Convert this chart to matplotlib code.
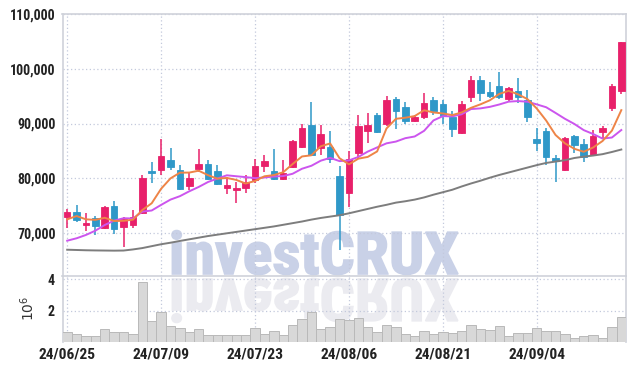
import matplotlib
matplotlib.use("Agg")
import matplotlib.pyplot as plt
import matplotlib.transforms as mtransforms
from matplotlib import font_manager as fm
from matplotlib.font_manager import FontProperties
from matplotlib.textpath import TextPath
from matplotlib.patches import PathPatch, Rectangle
from matplotlib.ticker import FuncFormatter, FixedLocator

# ---------------- data ----------------
dates = ["24/06/25", "24/06/26", "24/06/27", "24/06/28", "24/07/01", "24/07/02", "24/07/03", "24/07/04",
         "24/07/05", "24/07/08", "24/07/09", "24/07/10", "24/07/11", "24/07/12", "24/07/15", "24/07/16",
         "24/07/17", "24/07/18", "24/07/19", "24/07/22", "24/07/23", "24/07/24", "24/07/25", "24/07/26",
         "24/07/29", "24/07/30", "24/07/31", "24/08/01", "24/08/02", "24/08/05", "24/08/06", "24/08/07",
         "24/08/08", "24/08/09", "24/08/12", "24/08/13", "24/08/14", "24/08/16", "24/08/19", "24/08/20",
         "24/08/21", "24/08/22", "24/08/23", "24/08/26", "24/08/27", "24/08/28", "24/08/29", "24/08/30",
         "24/09/02", "24/09/03", "24/09/04", "24/09/05", "24/09/06", "24/09/09", "24/09/10", "24/09/11",
         "24/09/12", "24/09/13", "24/09/19", "24/09/20"]

opens = [73000, 73850, 71500, 72700, 70900, 74900, 71100, 71500, 73700, 81400,
         81500, 83300, 81500, 78600, 81700, 82600, 81300, 78300, 77800, 78300,
         79600, 82200, 81300, 79900, 82000, 85800, 89700, 85500, 85800, 80400,
         77300, 84600, 88700, 91500, 89900, 94500, 93100, 90500, 91100, 94300,
         93600, 91200, 88300, 94800, 97900, 95800, 96800, 94500, 95900, 94300,
         87200, 88600, 83700, 81600, 87700, 86300, 84200, 88400, 92900, 96000]
highs = [74400, 75100, 73600, 73100, 75000, 75900, 73000, 74200, 80600, 83000,
         87100, 85500, 82400, 80900, 85300, 83300, 82400, 80300, 79400, 80600,
         83600, 84300, 85300, 83300, 87000, 89900, 93900, 89700, 88700, 82300,
         84900, 91600, 92000, 91900, 95000, 94900, 94000, 91600, 95500, 94900,
         94300, 92200, 94200, 98700, 98700, 97600, 99400, 96700, 98300, 96100,
         89100, 89100, 84200, 87600, 87900, 87100, 88800, 89600, 97200, 104900]
lows = [70900, 72100, 70300, 69600, 70800, 69900, 67500, 70900, 73500, 79200,
        80600, 81600, 77900, 77800, 81200, 79700, 78700, 77100, 75400, 77300,
        79200, 81200, 79700, 79600, 81800, 85600, 84000, 84300, 82700, 66900,
        74800, 83500, 86500, 88300, 89600, 89000, 90000, 90300, 90900, 91600,
        90000, 87600, 88100, 94000, 94200, 94600, 94500, 94000, 93700, 90300,
        84900, 82500, 79400, 81300, 84600, 83000, 84000, 87300, 92200, 95400]
closes = [73800, 72400, 71850, 71200, 74700, 70800, 72600, 72900, 80000, 80900,
          84000, 82100, 78100, 80100, 82600, 79900, 78900, 78800, 78300, 79300,
          82200, 83200, 79900, 80900, 86800, 89100, 84300, 88100, 83500, 73300,
          83500, 89500, 89700, 88500, 94300, 92300, 90500, 91200, 93800, 92300,
          91400, 89000, 93600, 98000, 95500, 95100, 94800, 96400, 94900, 91100,
          86500, 83800, 83200, 87300, 86100, 83800, 87700, 89100, 96800, 104800]

ma_short = [72500, 73100, 72500, 72400, 72790, 72190, 72230, 72440, 74200, 75440,
            78080, 79980, 81020, 81040, 81380, 80560, 79920, 80060, 79700, 79040,
            79500, 80360, 80580, 81100, 82600, 83980, 84200, 85840, 86360, 83660,
            82540, 83580, 83900, 84900, 89100, 90860, 91060, 91360, 92420, 92020,
            91840, 91540, 92020, 92860, 93500, 94240, 95400, 95960, 95340, 94460,
            92740, 90540, 87900, 86380, 85380, 84840, 85620, 86800, 88700, 92440]
ma_mid = [68600, 69040, 69650, 70430, 71470, 72260, 72700, 72650, 73900, 74115,
          75135, 76105, 76730, 77620, 78410, 79320, 79950, 80540, 80370, 80210,
          80030, 80140, 80320, 80400, 80820, 81740, 82280, 83210, 83730, 83130,
          83260, 83890, 84870, 85630, 86380, 86700, 87320, 87630, 88660, 90560,
          91350, 91300, 91690, 92640, 92760, 93040, 93470, 93990, 94100, 93980,
          93490, 92970, 91930, 90860, 89920, 88790, 88080, 87250, 87440, 88810]
ma_long = [66950, 66900, 66850, 66820, 66800, 66780, 66800, 67000, 67250, 67600,
           67950, 68230, 68550, 68850, 69150, 69450, 69700, 69950, 70200, 70450,
           70700, 70950, 71200, 71500, 71800, 72100, 72450, 72750, 73000, 73250,
           73600, 74000, 74400, 74800, 75150, 75550, 75800, 76100, 76500, 77000,
           77450, 77900, 78500, 79050, 79550, 80100, 80600, 81050, 81500, 81950,
           82400, 82800, 83050, 83300, 83700, 83950, 84150, 84400, 84800, 85250]

volume_millions = [0.67, 0.54, 0.42, 0.42, 0.88, 0.67, 0.67, 0.54, 3.79, 1.38,
                   1.92, 1.06, 0.92, 0.69, 0.88, 0.48, 0.48, 0.48, 0.48, 0.48,
                   0.92, 0.54, 0.73, 0.48, 1.12, 1.50, 1.92, 0.87, 1.00, 1.50,
                   1.42, 1.54, 0.98, 0.67, 1.10, 0.98, 0.54, 0.46, 0.73, 0.54,
                   0.67, 0.60, 0.73, 1.10, 0.86, 0.79, 1.04, 0.42, 0.60, 0.60,
                   0.92, 0.73, 0.73, 0.54, 0.29, 0.42, 0.48, 0.29, 0.98, 1.60]

price_ticks = [70000, 80000, 90000, 100000, 110000]
volume_ticks = [2, 4]
date_tick_idx = [0, 10, 20, 30, 40, 50]

# ---------------- fonts ----------------
def pick_font():
    pref = ["Liberation Sans Narrow", "Roboto Condensed", "Noto Sans", "Open Sans", "DejaVu Sans", "Roboto", "Liberation Sans"]
    narrow_stretch = ("condensed", "semi-condensed", "extra-condensed", "ultra-condensed")
    boldish = ("bold", "semibold", "demibold", "heavy", "extra bold", 600, 700, 800)
    for name in pref:
        for f in fm.fontManager.ttflist:
            if f.name == name and f.style == "normal" and f.weight in boldish and (
                    f.stretch in narrow_stretch or "Narrow" in name or "Condensed" in name):
                return f.fname
    for name in ["Roboto", "Liberation Sans", "DejaVu Sans"]:
        for f in fm.fontManager.ttflist:
            if f.name == name and f.style == "normal" and f.weight in boldish and f.stretch == "normal":
                return f.fname
    return None

fpath = pick_font()
base_fp = FontProperties(fname=fpath) if fpath else FontProperties(family="DejaVu Sans", weight="bold")

def size_for_width(text, width_px):
    tp = TextPath((0, 0), text, size=10, prop=base_fp)
    w10 = tp.get_extents().width  # in points at size 10
    return 10 * width_px / (w10 * 100 / 72)

ysize = min(size_for_width("110,000", 44), 11.5)
xsize = min(size_for_width("24/06/25", 56), 11.5)
ytick_fp = base_fp.copy(); ytick_fp.set_size(ysize)
xtick_fp = base_fp.copy(); xtick_fp.set_size(xsize)

UP = "#e8206a"
DOWN = "#2f98c8"
GRID = "#c3c9dc"
SPINE = "#cfd2da"

W, H, DPI = 635, 370, 100
fig = plt.figure(figsize=(W / DPI, H / DPI), dpi=DPI)
fig.patch.set_facecolor("white")

def fx(px):
    return px / W

def fy(py):
    return 1 - py / H

ax = fig.add_axes([fx(62.5), fy(276), fx(626) - fx(62.5), fy(14) - fy(276)])
axv = fig.add_axes([fx(62.5), fy(341.5), fx(626) - fx(62.5), fy(276) - fy(341.5)], sharex=ax)
for a in (ax, axv):
    a.set_facecolor("none")

# ---------------- watermark ----------------
tp = TextPath((0, 0), "investCRUX", size=100, prop=base_fp)
ext = tp.get_extents()
cap = TextPath((0, 0), "CRUX", size=100, prop=base_fp).get_extents()
sx = 286 / ext.width
sy = 43 / cap.height
tr_main = mtransforms.Affine2D().translate(-ext.x0, 0).scale(sx, sy).translate(172, H - 274)
tr_refl = mtransforms.Affine2D().translate(-ext.x0, 0).scale(sx, -sy).translate(172, H - 279)
p1 = PathPatch(tp, facecolor="#c9d1e7", edgecolor="#c9d1e7", lw=1.2, transform=tr_main, zorder=-2)
p2 = PathPatch(tp, facecolor="#ebebf0", edgecolor="#ebebf0", lw=1.2, transform=tr_refl, zorder=-2)
fig.add_artist(p2)
fig.add_artist(p1)

# ---------------- candles ----------------
n = len(closes)
xs = list(range(n))
bw = 0.7
for i in xs:
    o, h, l, c = opens[i], highs[i], lows[i], closes[i]
    col = UP if c >= o else DOWN
    ax.vlines(i, l, h, color=col, lw=1.1, zorder=3)
    lo, hi = min(o, c), max(o, c)
    ax.add_patch(Rectangle((i - bw / 2, lo), bw, max(hi - lo, 120), facecolor=col,
                           edgecolor=col, lw=0.6, zorder=4))

ax.plot(xs, ma_long, color="#7d7d7d", lw=1.4, zorder=5)
ax.plot(xs, ma_mid, color="#cc55ee", lw=1.4, zorder=5)
ax.plot(xs, ma_short, color="#ee8447", lw=1.4, zorder=5)

ax.set_xlim(-0.5, n - 0.5)
ax.set_ylim(62150, 110000)
ax.yaxis.set_major_locator(FixedLocator(price_ticks))
ax.yaxis.set_major_formatter(FuncFormatter(lambda v, p: f"{int(v):,}"))
ax.xaxis.set_major_locator(FixedLocator(date_tick_idx))
ax.grid(True, which="major", linestyle=(0, (1, 2)), color=GRID, lw=0.9, zorder=0)
ax.tick_params(axis="both", length=0, pad=5, labelcolor="#222222")
ax.tick_params(axis="x", labelbottom=False)
for lab in ax.get_yticklabels():
    lab.set_fontproperties(ytick_fp)
for s in ax.spines.values():
    s.set_color(SPINE)
    s.set_linewidth(1.2)

# ---------------- volume ----------------
axv.bar(xs, volume_millions, width=1.0, color="#d8d8d8", edgecolor="#b9b9b9", lw=0.7, zorder=3)
axv.set_ylim(0.09, 4.19)
axv.yaxis.set_major_locator(FixedLocator(volume_ticks))
axv.yaxis.set_major_formatter(FuncFormatter(lambda v, p: f"{int(v)}"))
axv.xaxis.set_major_locator(FixedLocator(date_tick_idx))
axv.xaxis.set_major_formatter(FuncFormatter(lambda v, p: dates[int(round(v))] if 0 <= int(round(v)) < n else ""))
axv.grid(True, which="major", linestyle=(0, (1, 2)), color=GRID, lw=0.9, zorder=0)
axv.tick_params(axis="both", length=0, labelcolor="#222222")
axv.tick_params(axis="y", pad=6)
axv.tick_params(axis="x", pad=4)
for lab in axv.get_yticklabels():
    lab.set_fontproperties(ytick_fp)
for lab in axv.get_xticklabels():
    lab.set_fontproperties(xtick_fp)
axv.set_ylabel(r"$10^6$", fontsize=10, color="#333333", labelpad=7)
for s in axv.spines.values():
    s.set_color(SPINE)
    s.set_linewidth(1.2)
axv.spines["bottom"].set_visible(False)
axv.spines["top"].set_visible(False)

fig.savefig("out.png", dpi=DPI, facecolor="white")
